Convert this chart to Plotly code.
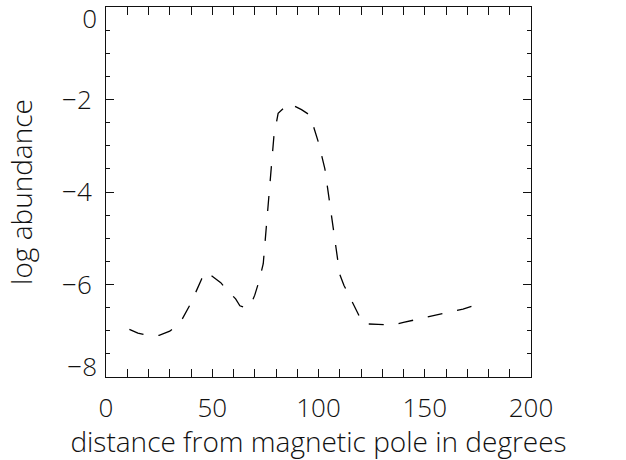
import plotly.graph_objects as go

# Abundance profile versus distance from the magnetic pole
distance_deg = [11, 15, 20, 25, 30, 35, 40, 45, 47, 50, 54, 57, 61, 63, 66, 68,
                70, 72, 74, 79, 81, 86, 92, 96, 97, 100, 103, 105, 108, 110,
                112, 116, 121, 128, 135, 140, 150, 160, 168, 172, 178]
log_abundance = [-6.97, -7.05, -7.10, -7.10, -7.01, -6.82, -6.40, -5.88, -5.72,
                 -5.83, -5.96, -6.12, -6.31, -6.46, -6.51, -6.45, -6.23, -5.93,
                 -5.55, -2.80, -2.30, -2.08, -2.22, -2.34, -2.50, -2.93, -3.50,
                 -4.15, -5.10, -5.78, -6.02, -6.40, -6.85, -6.86, -6.88, -6.82,
                 -6.72, -6.62, -6.53, -6.47, -6.37]

x_ticks = [0, 50, 100, 150, 200]
y_ticks_mid = [-6, -4, -2]

FONT = dict(family="Open Sans", size=26, color="#111111", weight=300)
TITLE_FONT = dict(FONT, size=28)
INK = "#111111"

fig = go.Figure()
fig.add_trace(go.Scatter(
    x=distance_deg, y=log_abundance, mode="lines",
    line=dict(color="black", width=1.3, dash="15px,15px"),
    showlegend=False, hoverinfo="skip",
))

common_y = dict(range=[-8, 0], showgrid=False, zeroline=False, automargin=False)

fig.update_layout(
    width=626, height=460,
    margin=dict(l=106, r=95, t=7, b=83),
    paper_bgcolor="white", plot_bgcolor="white",
    font=FONT,
    xaxis=dict(
        range=[0, 200], tickvals=x_ticks, ticktext=[str(v) for v in x_ticks],
        showgrid=False, zeroline=False, automargin=False,
        showline=True, linecolor=INK, linewidth=1, mirror="allticks",
        ticks="inside", ticklen=8, tickwidth=1, tickcolor=INK,
        minor=dict(dtick=10, ticks="inside", ticklen=4, tickwidth=1, tickcolor=INK),
        tickfont=FONT, ticklabelstandoff=8,
        title=dict(text="distance from magnetic pole in degrees", font=TITLE_FONT,
                   standoff=17),
    ),
    yaxis=dict(
        **common_y,
        tickvals=y_ticks_mid,
        showline=True, linecolor=INK, linewidth=1, mirror="allticks",
        ticks="inside", ticklen=8, tickwidth=1, tickcolor=INK,
        minor=dict(dtick=0.5, ticks="inside", ticklen=4, tickwidth=1, tickcolor=INK),
        tickfont=FONT, ticklabelstandoff=8,
        title=dict(text="log abundance", font=TITLE_FONT, standoff=21),
    ),
    # end labels of the y axis are nudged inside the frame height
    yaxis2=dict(
        **common_y, overlaying="y", side="left", tickvals=[0],
        ticks="", showline=False, tickfont=FONT, ticklabelstandoff=8,
        ticklabelposition="outside bottom", ticklabelshift=-6,
        ticklabeloverflow="allow",
    ),
    yaxis3=dict(
        **common_y, overlaying="y", side="left", tickvals=[-8],
        ticks="", showline=False, tickfont=FONT, ticklabelstandoff=8,
        ticklabelshift=-10,
    ),
)

# invisible traces so the overlay axes are drawn
for ax in ("y2", "y3"):
    fig.add_trace(go.Scatter(x=[None], y=[None], yaxis=ax, showlegend=False,
                             hoverinfo="skip"))

fig.write_html("out.html")
